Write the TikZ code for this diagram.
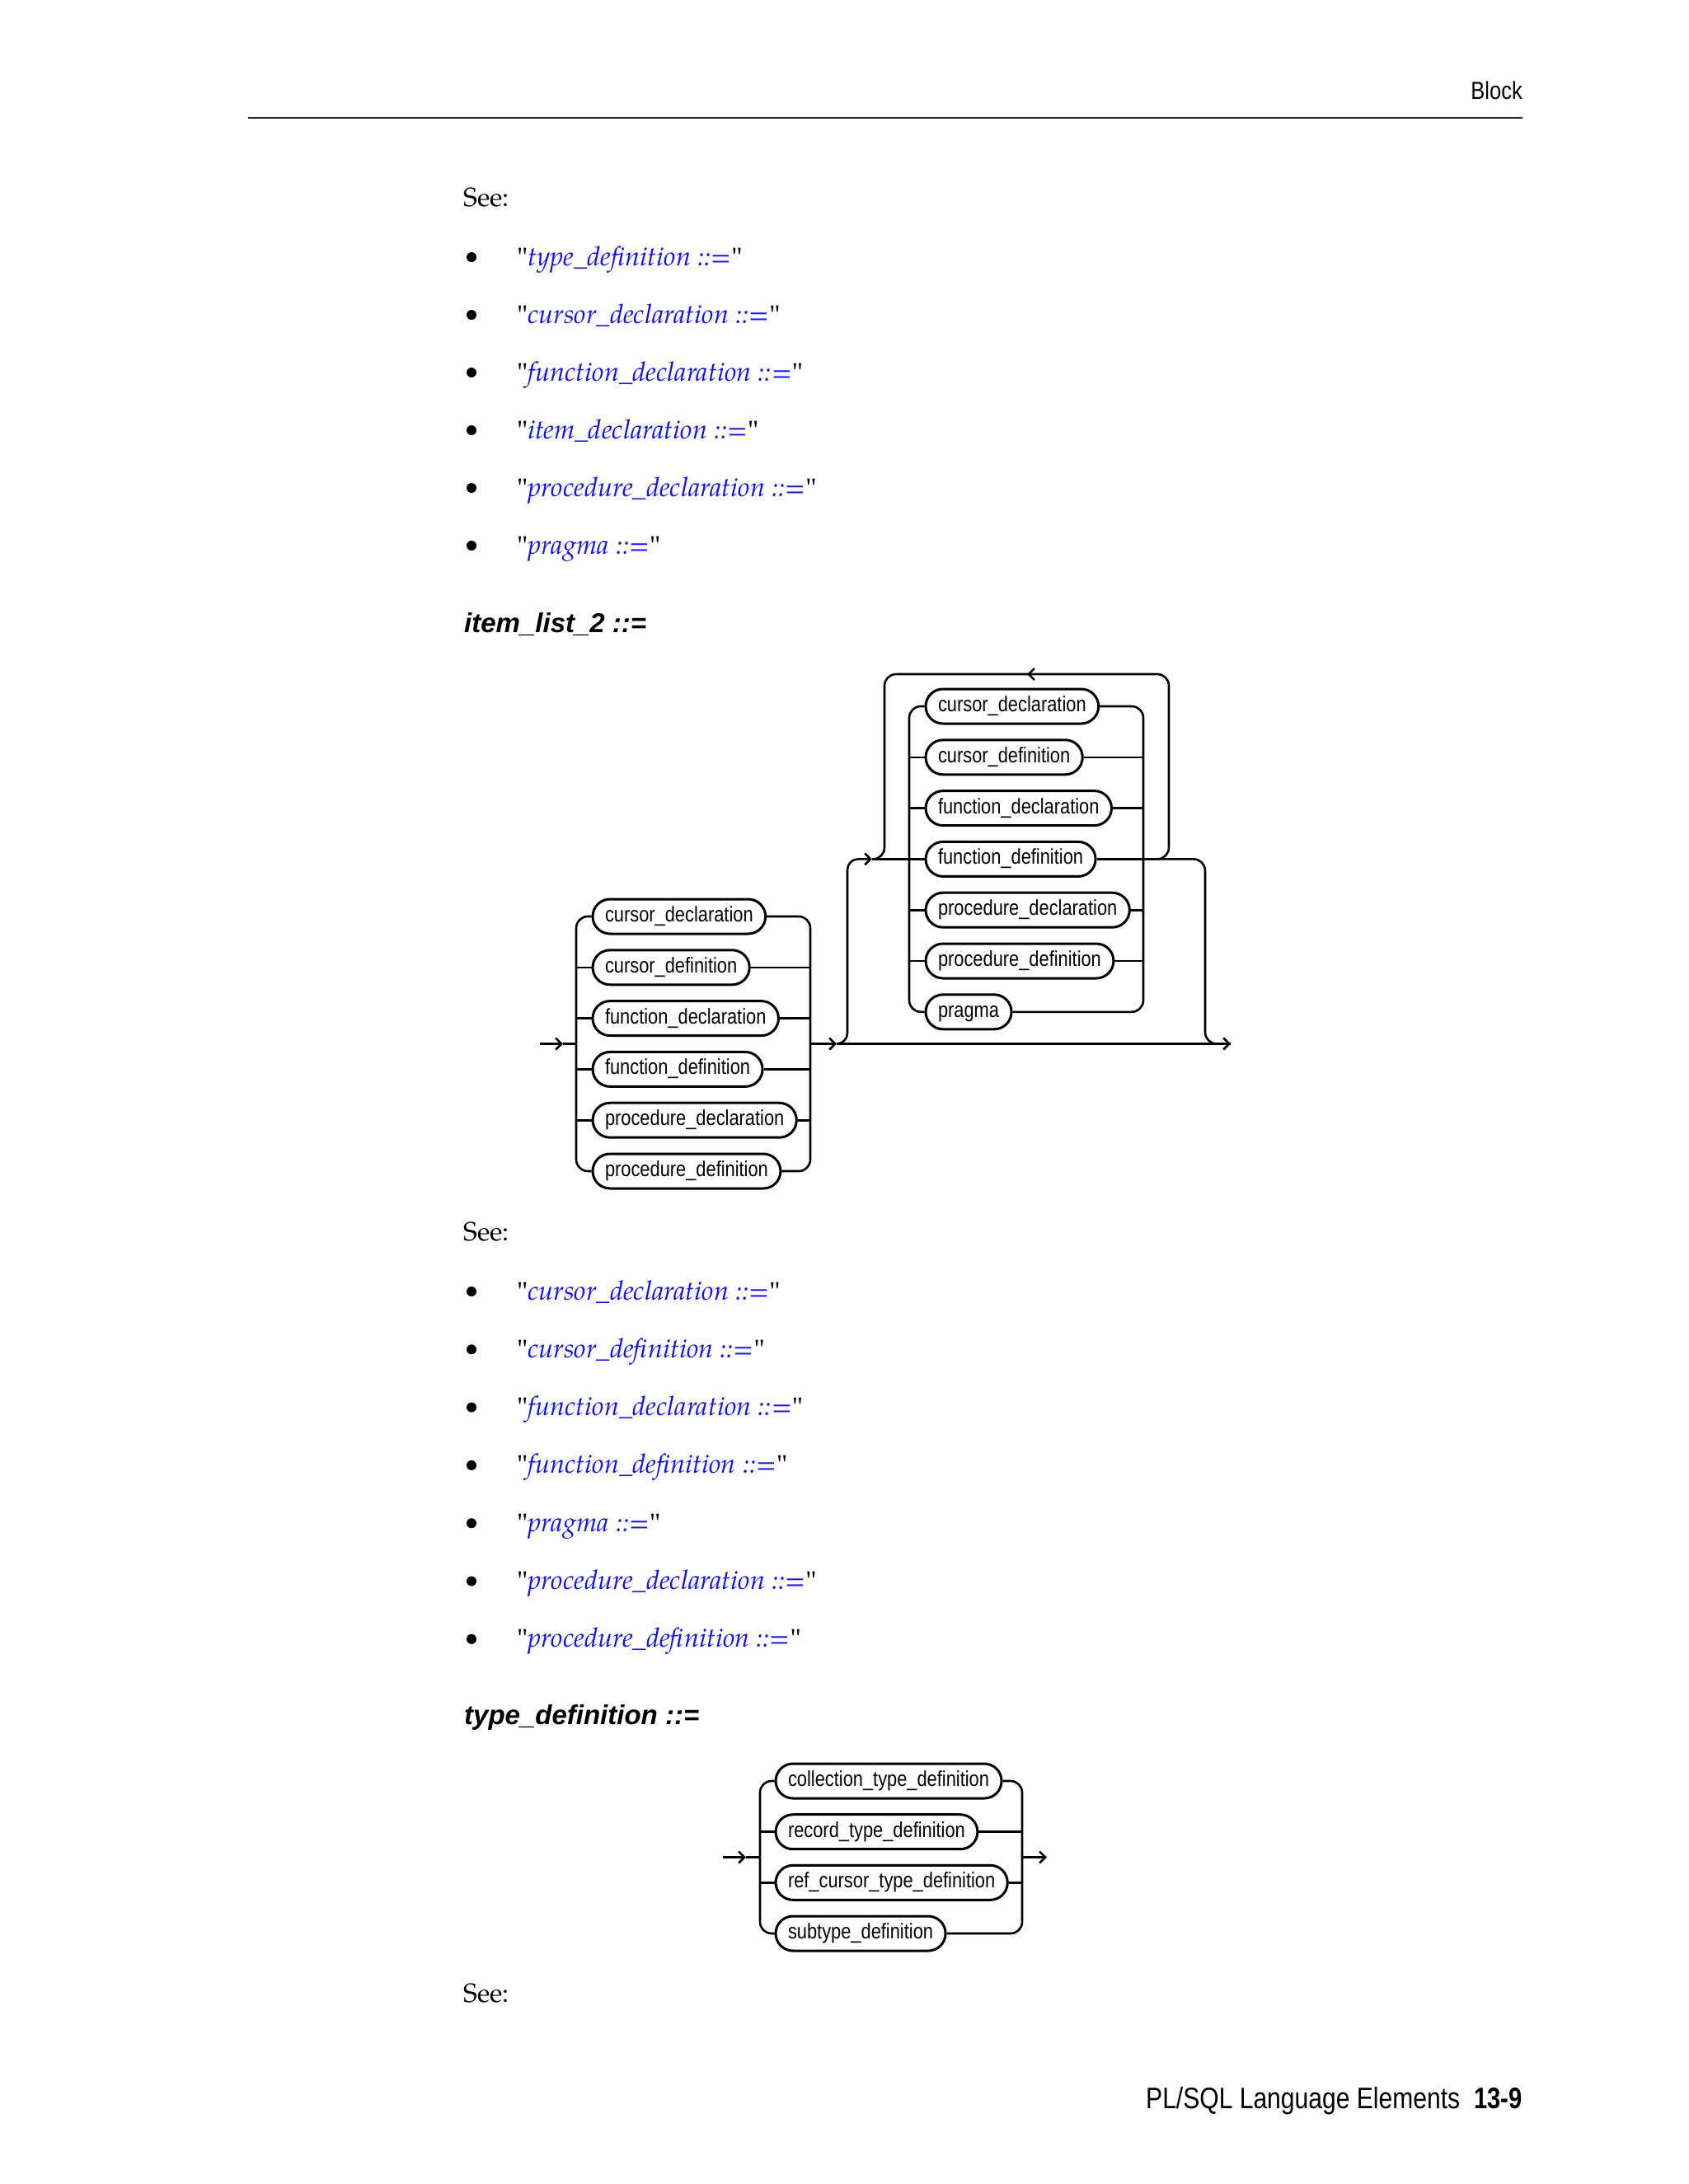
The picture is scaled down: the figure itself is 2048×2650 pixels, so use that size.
\documentclass[tikz,border=0pt]{standalone}
\usepackage{fontspec}
\setmainfont{texgyrepagella}[Extension=.otf, UprightFont=*-regular, ItalicFont=*-italic, BoldFont=*-bold, BoldItalicFont=*-bolditalic]
\newfontfamily\diagfont{Liberation Sans}[FakeStretch=0.84]
\newfontfamily\headfont{Liberation Sans}
\newfontfamily\hdrfont{Liberation Sans}[FakeStretch=0.85]
\newfontfamily\ftfont{Liberation Sans}[FakeStretch=0.835]
\newfontfamily\pgfont{Liberation Sans}[FakeStretch=0.81]
\newfontfamily\qtfont{Liberation Serif}
\usetikzlibrary{arrows.meta}
\definecolor{linkblue}{RGB}{20,20,230}
\tikzset{
  rail/.style={line width=2.6pt, line join=round},
  arr/.style={-{Straight Barb[length=7pt,width=14pt]}},
  item/.style={draw, line width=3pt, rounded corners=21pt, minimum height=42pt,
    inner xsep=15pt, inner ysep=0pt, text height=19pt, text depth=6pt,
    font=\diagfont\fontsize{26}{30}\selectfont, anchor=west},
  serif/.style={inner sep=0pt, anchor=base west, font=\fontsize{32}{38}\selectfont},
  linkline/.style={inner sep=0pt, anchor=base west, font=\fontsize{32.5}{38}\selectfont},
  heading/.style={inner sep=0pt, anchor=base west, font=\headfont\bfseries\itshape\fontsize{33}{38}\selectfont},
  bullet/.style={fill=black}
}
\newcommand{\qmark}{{\qtfont\char"0022}}
\newcommand{\linkitem}[1]{\qmark\textcolor{linkblue}{\itshape #1 ::=}\qmark}
\begin{document}
\begin{tikzpicture}[x=1pt,y=-1pt]
\fill[white] (0,0) rectangle (2048,2650);
\useasboundingbox (0,0) rectangle (2048,2650);

% page header
\node[inner sep=0pt, anchor=base east, font=\hdrfont\fontsize{30}{34}\selectfont] (blk) at (1847,120) {Block};
\coordinate (ruleL) at (301,143);
\coordinate (ruleR) at (1847,143);
\draw[line width=2pt, black!85] (ruleL) -- (ruleR);

% first See list
\node[serif] (see1) at (562,250) {See:};
\foreach \i/\t in {0/type\_definition,1/cursor\_declaration,2/function\_declaration,3/item\_declaration,4/procedure\_declaration,5/pragma}{
  \fill[bullet] (572,312+70*\i) circle (6);
  \node[linkline] (la\i) at (627,322+70*\i) {\linkitem{\t}};
}

% item_list_2 heading
\node[heading] (h1) at (563,767) {item\_list\_2 ::=};

% ---------- diagram item_list_2 ----------
\coordinate (in1) at (655,1266.5);
\coordinate (t1) at (683,1266.5);
\coordinate (L1) at (699,1266.5);
\coordinate (R1) at (983,1266.5);
\coordinate (t2) at (1015,1266.5);
\coordinate (up) at (1028,1042.4);
\coordinate (t3) at (1058,1042.4);
\coordinate (L2) at (1103,1042.4);
\coordinate (R2) at (1387,1042.4);
\coordinate (lpL) at (1073,818);
\coordinate (lpR) at (1418,818);
\coordinate (la1) at (1262,818);
\coordinate (la2) at (1246,818);
\coordinate (dn) at (1462,1042.4);
\coordinate (out) at (1493,1266.5);

\node[item] (a1) at (717.5,1112) {cursor\_declaration};
\node[item] (a2) at (717.5,1173.8) {cursor\_definition};
\node[item] (a3) at (717.5,1235.6) {function\_declaration};
\node[item] (a4) at (717.5,1297.4) {function\_definition};
\node[item] (a5) at (717.5,1359.2) {procedure\_declaration};
\node[item] (a6) at (717.5,1421) {procedure\_definition};

\node[item] (b1) at (1121.5,857) {cursor\_declaration};
\node[item] (b2) at (1121.5,918.8) {cursor\_definition};
\node[item] (b3) at (1121.5,980.6) {function\_declaration};
\node[item] (b4) at (1121.5,1042.4) {function\_definition};
\node[item] (b5) at (1121.5,1104.2) {procedure\_declaration};
\node[item] (b6) at (1121.5,1166) {procedure\_definition};
\node[item] (b7) at (1121.5,1227.8) {pragma};

% first choice
\draw[rail,arr] (in1) -- (t1);
\draw[rail] (t1) -- (L1);
\draw[rail, rounded corners=14pt] (a1.west) -| (L1);
\draw[rail, rounded corners=14pt] (a6.west) -| (L1);
\draw[rail, rounded corners=14pt] (a1.east) -| (R1);
\draw[rail, rounded corners=14pt] (a6.east) -| (R1);
\foreach \n in {a2,a3,a4,a5}{
  \draw[rail] (\n.west) -- (\n.west -| L1);
  \draw[rail] (\n.east) -- (\n.east -| R1);
}
% main line
\draw[rail,arr] (R1) -- (t2);
\draw[rail,arr] (t2) -- (out);
% branch into the loop
\draw[rail,arr,rounded corners=13pt] (t2) -| (up) -- (t3);
\draw[rail] (t3) -- (b4.west);
% second choice
\draw[rail, rounded corners=14pt] (b1.west) -| (L2);
\draw[rail, rounded corners=14pt] (b7.west) -| (L2);
\draw[rail, rounded corners=14pt] (b1.east) -| (R2);
\draw[rail, rounded corners=14pt] (b7.east) -| (R2);
\foreach \n in {b2,b3,b5,b6}{
  \draw[rail] (\n.west) -- (\n.west -| L2);
  \draw[rail] (\n.east) -- (\n.east -| R2);
}
\draw[rail] (b4.east) -- (R2);
% repetition loop
\draw[rail, rounded corners=14pt] (R2) -- (R2 -| lpR) -- (lpR) -- (lpL) -- (lpL |- L2) -- (t3);
\draw[rail,arr] (la1) -- (la2);
% exit back to main line
\draw[rail, rounded corners=14pt] (R2) -- (dn) -- (dn |- out) -- (out);

% second See list
\node[serif] (see2) at (562,1505) {See:};
\foreach \i/\t in {0/cursor\_declaration,1/cursor\_definition,2/function\_declaration,3/function\_definition,4/pragma,5/procedure\_declaration,6/procedure\_definition}{
  \fill[bullet] (572,1567+70.3*\i) circle (6);
  \node[linkline] (lb\i) at (627,1577+70.3*\i) {\linkitem{\t}};
}

% type_definition heading
\node[heading] (h2) at (563,2092) {type\_definition ::=};

% ---------- diagram type_definition ----------
\coordinate (in3) at (877,2253.5);
\coordinate (t4) at (905,2253.5);
\coordinate (L3) at (922,2253.5);
\coordinate (R3) at (1240,2253.5);
\coordinate (out3) at (1270,2253.5);
\node[item] (c1) at (939.5,2161) {collection\_type\_definition};
\node[item] (c2) at (939.5,2222.7) {record\_type\_definition};
\node[item] (c3) at (939.5,2284.3) {ref\_cursor\_type\_definition};
\node[item] (c4) at (939.5,2346) {subtype\_definition};
\draw[rail,arr] (in3) -- (t4);
\draw[rail] (t4) -- (L3);
\draw[rail, rounded corners=14pt] (c1.west) -| (L3);
\draw[rail, rounded corners=14pt] (c4.west) -| (L3);
\draw[rail, rounded corners=14pt] (c1.east) -| (R3);
\draw[rail, rounded corners=14pt] (c4.east) -| (R3);
\foreach \n in {c2,c3}{
  \draw[rail] (\n.west) -- (\n.west -| L3);
  \draw[rail] (\n.east) -- (\n.east -| R3);
}
\draw[rail,arr] (R3) -- (out3);

% third See
\node[serif] (see3) at (562,2429) {See:};

% footer
\node[inner sep=0pt, anchor=base west, font=\ftfont\fontsize{36}{40}\selectfont] (ft) at (1390,2558) {PL/SQL Language Elements};
\node[inner sep=0pt, anchor=base east, font=\pgfont\bfseries\fontsize{36}{40}\selectfont] (pg) at (1847,2558) {13-9};
\end{tikzpicture}
\end{document}
